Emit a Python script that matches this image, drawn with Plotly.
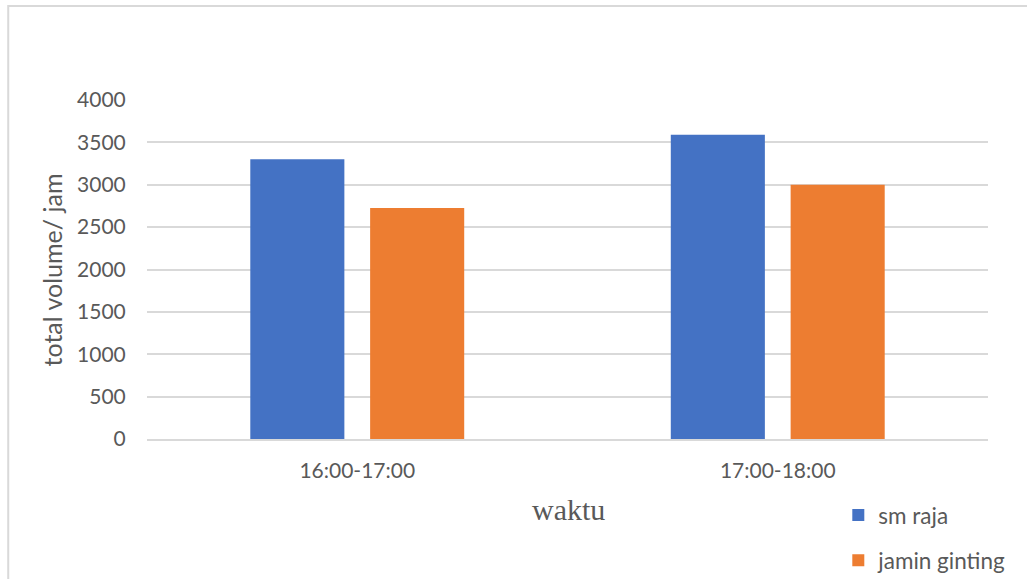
import plotly.graph_objects as go

# Hourly traffic volume per road
waktu = ["16:00-17:00", "17:00-18:00"]
sm_raja = [3300, 3590]
jamin_ginting = [2725, 3000]
y_ticks = [0, 500, 1000, 1500, 2000, 2500, 3000, 3500, 4000]

TEXT = "#595959"
GRID = "#d9d9d9"
FONT = "Lato, 'Open Sans', sans-serif"

fig = go.Figure()
fig.add_trace(go.Bar(name="sm raja", x=waktu, y=sm_raja,
                     marker=dict(color="#4472C4", line=dict(width=0)),
                     legendgroup="a"))
fig.add_trace(go.Bar(name="jamin ginting", x=waktu, y=jamin_ginting,
                     marker=dict(color="#ED7D31", line=dict(width=0)),
                     legendgroup="b"))

fig.update_layout(
    width=1027, height=579,
    margin=dict(l=147, r=39, t=100, b=140, autoexpand=False),
    paper_bgcolor="white", plot_bgcolor="white",
    font=dict(family=FONT, color=TEXT, size=21),
    barmode="group", bargap=0.43, bargroupgap=0.215,
    showlegend=True,
    legend=dict(x=0.822, y=-0.162, xanchor="left", yanchor="top",
                orientation="v", tracegroupgap=13,
                font=dict(family=FONT, size=22.5, color=TEXT),
                bgcolor="rgba(0,0,0,0)"),
    xaxis=dict(showgrid=False, showline=True, linecolor=GRID, linewidth=1.5,
               ticks="outside", ticklen=12, tickcolor="rgba(0,0,0,0)",
               tickfont=dict(family=FONT, size=21, color=TEXT), zeroline=False),
    yaxis=dict(range=[0, 4000], tickvals=y_ticks, showgrid=True,
               gridcolor=GRID, gridwidth=1.5, zeroline=False, showline=False,
               ticks="outside", ticklen=16, tickcolor="rgba(0,0,0,0)",
               tickfont=dict(family=FONT, size=21, color=TEXT)),
    annotations=[
        dict(text="total volume/ jam", xref="paper", yref="paper",
             x=-0.113, y=0.5, xanchor="center", yanchor="middle",
             textangle=-90, showarrow=False,
             font=dict(family=FONT, size=25, color=TEXT)),
        dict(text="waktu", xref="paper", yref="paper",
             x=0.501, y=-0.207, xanchor="center", yanchor="middle",
             showarrow=False,
             font=dict(family="'Liberation Serif', 'Times New Roman', serif",
                       size=30, color=TEXT)),
    ],
    shapes=[
        # chart frame
        dict(type="rect", xref="paper", yref="paper",
             x0=-0.165, x1=1.2, y0=-0.6, y1=1.2775,
             line=dict(color=GRID, width=2), layer="below"),
    ],
)

fig.write_html("out.html")
